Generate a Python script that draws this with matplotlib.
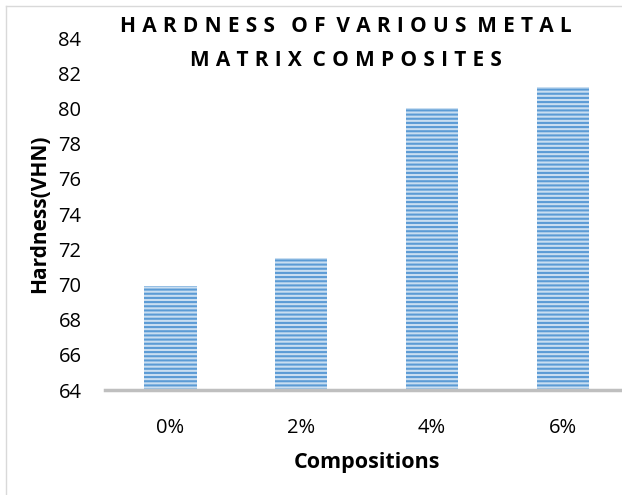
import matplotlib
matplotlib.use("Agg")
import matplotlib.pyplot as plt
from matplotlib.lines import Line2D

# data
compositions = ["0%", "2%", "4%", "6%"]
hardness = [69.9, 71.5, 80.0, 81.2]
y_ticks = list(range(64, 85, 2))

plt.rcParams["font.family"] = ["Open Sans", "DejaVu Sans"]
plt.rcParams["hatch.linewidth"] = 1.5

W, H = 622, 495
fig = plt.figure(figsize=(W / 100, H / 100), dpi=100)
# axes runs a bit past the right edge, as in the cropped reference
ax = fig.add_axes([105 / W, 105 / H, 523.5 / W, 352 / H])

x = range(len(compositions))
ax.bar(x, hardness, width=0.40, bottom=0, color="#C9DEF1",
       edgecolor="#5B9BD5", linewidth=0, hatch="----", zorder=2)

ax.set_xlim(-0.5, len(compositions) - 0.5)
ax.set_ylim(64, 84)
ax.set_yticks(y_ticks)
ax.set_xticks(list(x))
ax.set_xticklabels(compositions)
ax.tick_params(axis="both", length=0, labelsize=14.5, colors="black")
ax.tick_params(axis="y", pad=17)
ax.tick_params(axis="x", pad=20)

for side in ("top", "right", "left"):
    ax.spines[side].set_visible(False)
ax.spines["bottom"].set_color("#BFBFBF")
ax.spines["bottom"].set_linewidth(2.5)
ax.spines["bottom"].set_zorder(3)

ax.set_xlabel("Compositions", fontsize=15.5, fontweight="bold", labelpad=10)
ax.set_ylabel("Hardness(VHN)", fontsize=15, fontweight="bold", labelpad=6)

# letter-spaced title, like the spreadsheet chart title
sp = "\u2009\u200a"
line1 = sp.join("HARDNESS") + "   " + "  ".join(sp.join(w) for w in ["OF", "VARIOUS", "METAL"])
line2 = "  ".join(sp.join(w) for w in ["MATRIX", "COMPOSITES"])
fig.text(346 / W, 1 - 26 / H, line1, ha="center", va="center",
         fontsize=15, fontweight="bold")
fig.text(346 / W, 1 - 60 / H, line2, ha="center", va="center",
         fontsize=15, fontweight="bold")

# light chart-area border (left and top visible in the crop)
fig.add_artist(Line2D([5.5 / W, 5.5 / W], [0, 1 - 5.5 / H], transform=fig.transFigure,
                      color="#D9D9D9", lw=1))
fig.add_artist(Line2D([5.5 / W, 1], [1 - 5.5 / H, 1 - 5.5 / H], transform=fig.transFigure,
                      color="#D9D9D9", lw=1))

fig.savefig("out.png", dpi=100)
